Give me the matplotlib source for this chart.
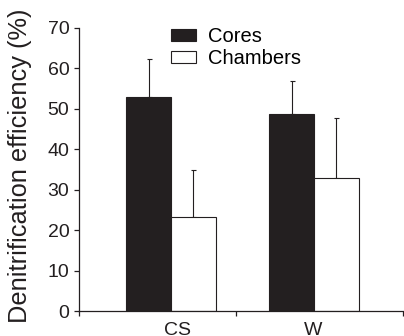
import matplotlib
matplotlib.use("Agg")
import matplotlib.pyplot as plt
import numpy as np

plt.rcParams['font.family'] = ['Liberation Sans', 'DejaVu Sans']

# --- dados ---
sites = ["CS", "W"]
cores = [53.0, 48.7]
cores_err = [9.3, 8.1]
chambers = [23.2, 32.9]
chambers_err = [11.7, 14.9]

# --- posicoes (layout) ---
centros = np.array([0.568, 1.451])
largura = 0.277
cor_escura = "#231f20"

fig = plt.figure(figsize=(4.04, 3.36), dpi=100)
ax = fig.add_axes([79 / 404, 1 - 311 / 336, 324 / 404, 283 / 336])

ax.bar(centros - largura / 2, cores, largura, color=cor_escura,
       edgecolor=cor_escura, linewidth=0.8, label="Cores", zorder=2)
ax.bar(centros + largura / 2, chambers, largura, color="white",
       edgecolor=cor_escura, linewidth=0.8, label="Chambers", zorder=2)

# barras de erro so para cima
ax.errorbar(centros - largura / 2, cores, yerr=[[0, 0], cores_err], fmt="none",
            ecolor=cor_escura, elinewidth=0.8, capsize=1.8, capthick=0.8, zorder=1)
ax.errorbar(centros + largura / 2, chambers, yerr=[[0, 0], chambers_err], fmt="none",
            ecolor=cor_escura, elinewidth=0.8, capsize=1.8, capthick=0.8, zorder=1)

ax.set_xlim(0, 2)
ax.set_ylim(0, 70)
ax.set_yticks(np.arange(0, 71, 10))
ax.set_xticks([0, 0.97, 2])
ax.set_xticklabels([])
for x, nome in zip([0.605, 1.444], sites):
    ax.text(x, -2.6, nome, ha="center", va="top", fontsize=14, color=cor_escura)

for lado in ["top", "right"]:
    ax.spines[lado].set_visible(False)
for lado in ["left", "bottom"]:
    ax.spines[lado].set_linewidth(0.9)
    ax.spines[lado].set_color(cor_escura)
ax.tick_params(axis="both", direction="out", length=3.5, width=0.9,
               color=cor_escura, labelsize=14, labelcolor=cor_escura, pad=3.5)

ax.set_ylabel("Denitrification efficiency (%)", fontsize=18.3, color=cor_escura)
ax.yaxis.set_label_coords(-0.146, 0.512)

ax.legend(loc="upper left", bbox_to_anchor=(171 / 404, 1 - 27 / 336),
          bbox_transform=fig.transFigure, frameon=False, fontsize=14.5,
          handlelength=1.25, handleheight=0.6, handletextpad=0.6,
          labelspacing=0.15, borderpad=0, borderaxespad=0)

fig.savefig("out.png", dpi=100)
